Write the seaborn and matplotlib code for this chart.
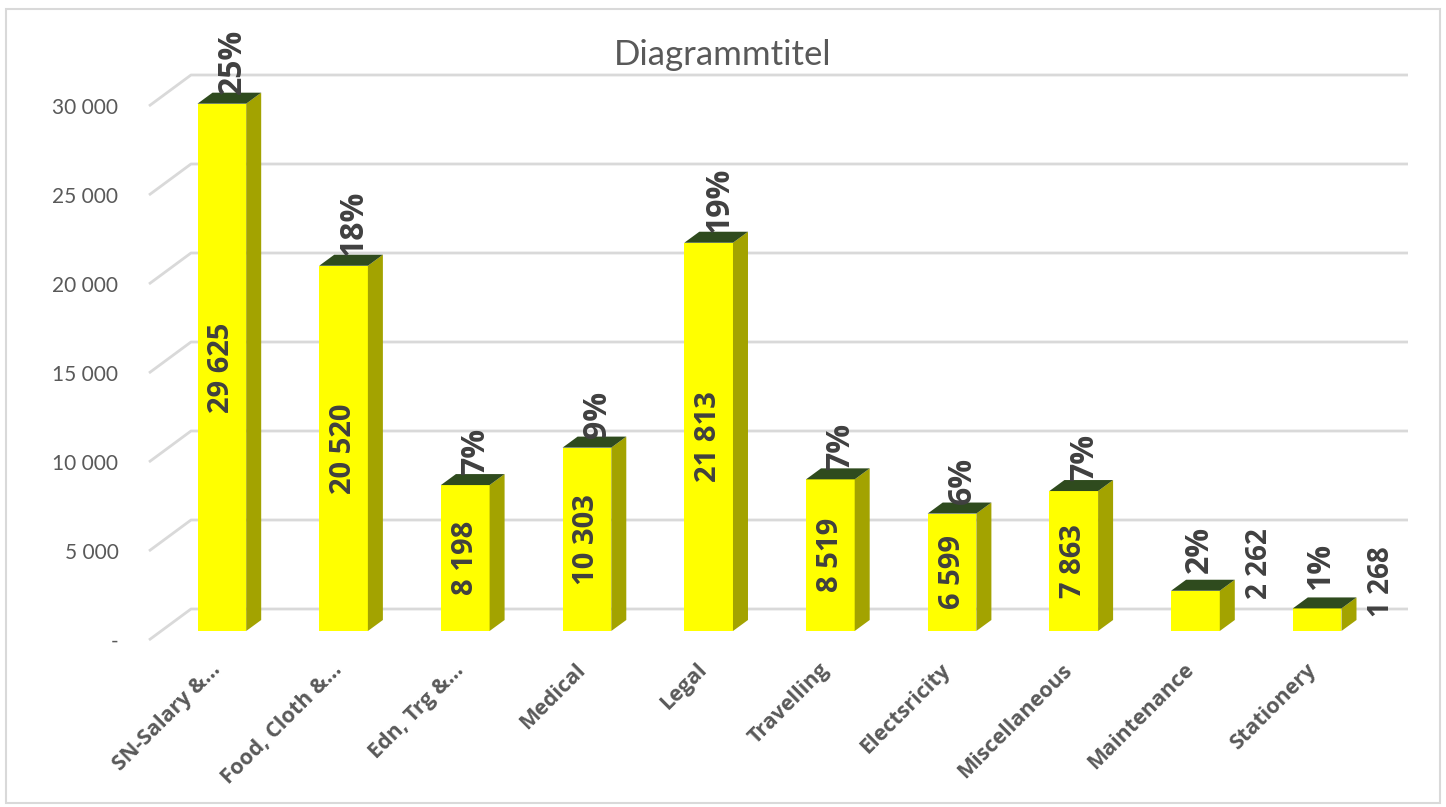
import matplotlib
matplotlib.use("Agg")
import matplotlib.pyplot as plt
import matplotlib.patches as mpatches
from matplotlib.transforms import ScaledTranslation
import seaborn as sns
import pandas as pd

categories = ["SN-Salary &...", "Food, Cloth &...", "Edn, Trg &...", "Medical", "Legal",
              "Travelling", "Electsricity", "Miscellaneous", "Maintenance", "Stationery"]
values = [29625, 20520, 8198, 10303, 21813, 8519, 6599, 7863, 2262, 1268]
percent_labels = ["25%", "18%", "7%", "9%", "19%", "7%", "6%", "7%", "2%", "1%"]
value_labels = ["29 625", "20 520", "8 198", "10 303", "21 813", "8 519", "6 599", "7 863", "2 262", "1 268"]
y_ticks = [0, 5000, 10000, 15000, 20000, 25000, 30000]
y_tick_labels = ["-", "5 000", "10 000", "15 000", "20 000", "25 000", "30 000"]

df = pd.DataFrame({"category": categories, "value": values})

# pixel geometry of the fake 3D look
W, H = 1446, 807
DPI = 100
px_x = 121.7          # pixels per category slot
px_y = 0.0178         # pixels per value unit
back_dx, back_dy = 42, 31     # back wall offset (px)
bar_dx, bar_dy = 12, 9        # bar front plane offset (px)
depth_dx, depth_dy = 15, 11   # bar depth (px)

FRONT = "#FFFF00"
SIDE = "#A3A300"
TOP = "#2F4B1E"
GRID = "#D9D9D9"
TXT = "#595959"
LBL = "#404040"
BOLD = ["Open Sans", "DejaVu Sans"]

sns.set_style("white")
plt.rcParams["font.family"] = ["Lato", "DejaVu Sans"]

fig = plt.figure(figsize=(W / DPI, H / DPI), dpi=DPI)
left_px, right_px, floor_px = 149, 1366, 640
ymax = 32000
ax = fig.add_axes([left_px / W, (H - floor_px) / H, (right_px - left_px) / W, ymax * px_y / H])

sns.barplot(data=df, x="category", y="value", width=0.4, color=FRONT, saturation=1,
            edgecolor="none", ax=ax, zorder=3)

ax.set_xlim(-0.5, len(categories) - 0.5)
ax.set_ylim(0, ymax)

# back wall gridlines with the little diagonal floor ticks
bdx = back_dx / px_x
bdy = back_dy / px_y
for v in y_ticks:
    ax.plot([-0.5, -0.5 + bdx, len(categories) - 0.5 + bdx], [v, v + bdy, v + bdy],
            color=GRID, lw=2, zorder=0, clip_on=False, solid_capstyle="butt")

bar_trans = ax.transData + ScaledTranslation(bar_dx / DPI, bar_dy / DPI, fig.dpi_scale_trans)
ddx = depth_dx / px_x
ddy = depth_dy / px_y

for i, p in enumerate(list(ax.patches)):
    p.set_transform(bar_trans)
    x0, w, h = p.get_x(), p.get_width(), p.get_height()
    x1 = x0 + w
    side = mpatches.Polygon([(x1, 0), (x1 + ddx, ddy), (x1 + ddx, h + ddy), (x1, h)],
                            closed=True, facecolor=SIDE, edgecolor="none",
                            transform=bar_trans, zorder=3, clip_on=False)
    top = mpatches.Polygon([(x0, h), (x1, h), (x1 + ddx, h + ddy), (x0 + ddx, h + ddy)],
                           closed=True, facecolor=TOP, edgecolor="none",
                           transform=bar_trans, zorder=3, clip_on=False)
    ax.add_patch(side)
    ax.add_patch(top)
    p.set_clip_on(False)

    cx = x0 + w / 2
    if h < 3000:
        ax.text(cx + ddx / 4, h + ddy + 400, percent_labels[i], rotation=90, ha="center", va="bottom",
                fontsize=23, fontweight="bold", family=BOLD, color=LBL, transform=bar_trans,
                zorder=5, clip_on=False)
        ax.text(cx + 0.53, h + 1500, value_labels[i], rotation=90, ha="center", va="center",
                fontsize=20, fontweight="bold", family=BOLD, color=LBL, transform=bar_trans, zorder=5)
    else:
        ax.text(cx + ddx * 0.7, h + ddy - 80, percent_labels[i], rotation=90, ha="center", va="bottom",
                fontsize=23, fontweight="bold", family=BOLD, color=LBL, transform=bar_trans,
                zorder=5, clip_on=False)
        ax.text(cx, h / 2, value_labels[i], rotation=90, ha="center", va="center",
                fontsize=21, fontweight="bold", family=BOLD, color=LBL, transform=bar_trans, zorder=5)

ax.set_yticks(y_ticks)
ax.set_yticklabels(y_tick_labels, fontsize=15, color=TXT)
ax.tick_params(axis="y", length=0, pad=22)
ax.set_xlabel("")
ax.set_ylabel("")
ax.set_xticks(range(len(categories)))
ax.set_xticklabels(categories, rotation=45, ha="right", rotation_mode="anchor",
                   fontsize=15.5, fontweight="bold", family=BOLD, color=TXT)
for lab in ax.get_xticklabels():
    lab.set_transform(lab.get_transform() + ScaledTranslation(-0.14, 0, fig.dpi_scale_trans))
ax.tick_params(axis="x", length=0, pad=14)
for s in ax.spines.values():
    s.set_visible(False)

fig.text(0.5, (H - 55) / H, "Diagrammtitel", ha="center", va="center", fontsize=25, color=TXT)

frame = mpatches.Rectangle((6 / W, 4 / H), (W - 12) / W, (H - 13) / H, transform=fig.transFigure,
                           fill=False, edgecolor=GRID, lw=1.5)
fig.patches.append(frame)

fig.savefig("out.png", dpi=DPI, facecolor="white")
